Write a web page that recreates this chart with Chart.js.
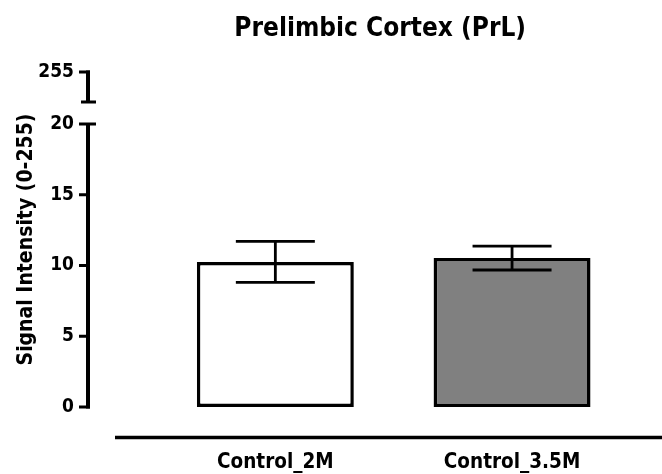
<!DOCTYPE html>
<html>
<head>
<meta charset="utf-8">
<script src="https://cdn.jsdelivr.net/npm/chart.js@4"></script>
<style>
  html, body { margin: 0; padding: 0; background: #fff; }
  #wrap { width: 662px; height: 474px; }
</style>
</head>
<body>
<div id="wrap"><canvas id="chart"></canvas></div>
<script>
// Data
const categories = ['Control_2M', 'Control_3.5M'];
const means = [10.25, 10.52];
const sem = [1.45, 0.84];
const barColors = ['#ffffff', '#808080'];

// Broken y axis: 0-20 on the lower segment, "255" at the top of a short upper segment
const yTickValues = [0, 5, 10, 15, 20, 23.67];
const yTickLabels = ['0', '5', '10', '15', '20', '255'];
const lowerSegmentTop = 20;
const upperSegment = [21.55, 23.67];

const FONT = '"DejaVu Sans Condensed", "DejaVu Sans", sans-serif';

/**
 * Draws the Prism-style axes (split y axis, detached x axis) and the error bars
 */
const prismAxes = {
    id: 'prismAxes',
    afterLayout(chart) {
        // title sits a little left of the plot-area centre in the original
        chart.titleBlock.left = chart.chartArea.left - 27;
    },
    afterDatasetsDraw(chart) {
        const ctx = chart.ctx;
        const xs = chart.scales.x;
        const ys = chart.scales.y;
        const area = chart.chartArea;
        const axisX = area.left - 69;

        ctx.save();
        ctx.strokeStyle = '#000';
        ctx.lineCap = 'butt';

        // y axis segments
        ctx.lineWidth = 4;
        ctx.beginPath();
        ctx.moveTo(axisX, ys.getPixelForValue(0) + 1.5);
        ctx.lineTo(axisX, ys.getPixelForValue(lowerSegmentTop));
        ctx.moveTo(axisX, ys.getPixelForValue(upperSegment[0]));
        ctx.lineTo(axisX, ys.getPixelForValue(upperSegment[1]) - 1.5);
        ctx.stroke();

        // tick marks
        ctx.lineWidth = 3;
        ctx.beginPath();
        yTickValues.forEach(v => {
            const py = ys.getPixelForValue(v);
            ctx.moveTo(axisX - 9, py);
            ctx.lineTo(axisX + 2, py);
        });
        // break caps
        [lowerSegmentTop, upperSegment[0]].forEach(v => {
            const py = ys.getPixelForValue(v);
            ctx.moveTo(axisX - 7, py);
            ctx.lineTo(axisX + 8, py);
        });
        ctx.stroke();

        // detached x axis line
        ctx.lineWidth = 3.5;
        ctx.beginPath();
        ctx.moveTo(area.left - 42, area.bottom + 30.5);
        ctx.lineTo(chart.width, area.bottom + 30.5);
        ctx.stroke();

        // error bars (mean +/- SEM)
        ctx.lineWidth = 2.8;
        means.forEach((m, i) => {
            const cx = xs.getPixelForValue(i);
            const top = ys.getPixelForValue(m + sem[i]);
            const bot = ys.getPixelForValue(m - sem[i]);
            ctx.beginPath();
            ctx.moveTo(cx, top);
            ctx.lineTo(cx, bot);
            ctx.moveTo(cx - 39.5, top);
            ctx.lineTo(cx + 39.5, top);
            ctx.moveTo(cx - 39.5, bot);
            ctx.lineTo(cx + 39.5, bot);
            ctx.stroke();
        });
        ctx.restore();
    }
};

new Chart(document.getElementById('chart'), {
    type: 'bar',
    data: {
        labels: categories,
        datasets: [{
            data: means,
            backgroundColor: barColors,
            borderColor: '#000',
            borderWidth: 3.5,
            borderSkipped: false,
            barPercentage: 0.663,
            categoryPercentage: 1
        }]
    },
    options: {
        responsive: true,
        maintainAspectRatio: false,
        animation: false,
        layout: {
            padding: { left: 0, right: 31.6, top: 0, bottom: 0 }
        },
        scales: {
            x: {
                afterFit: scale => {
                    scale.height = 67;
                },
                grid: { display: false, drawTicks: false },
                border: { display: false },
                ticks: {
                    padding: 43,
                    color: '#000',
                    font: { family: FONT, size: 20.5, weight: 'bold' }
                }
            },
            y: {
                min: 0,
                max: 23.67,
                afterBuildTicks: scale => {
                    scale.ticks = yTickValues.map(v => ({ value: v }));
                },
                afterFit: scale => {
                    // fixed gutter for labels; keep the big label padding out of the vertical layout
                    scale.width = 157;
                    scale.paddingTop = 0;
                    scale.paddingBottom = 0;
                },
                grid: { display: false, drawTicks: false },
                border: { display: false },
                ticks: {
                    autoSkip: false,
                    padding: 83,
                    color: '#000',
                    font: { family: FONT, size: 19, weight: 'bold' },
                    callback: (value, index) => yTickLabels[index]
                },
                title: {
                    display: true,
                    text: 'Signal Intensity (0-255)',
                    color: '#000',
                    font: { family: FONT, size: 21, weight: 'bold' },
                    padding: { top: 14, bottom: 0 }
                }
            }
        },
        plugins: {
            legend: { display: false },
            tooltip: { enabled: false },
            title: {
                display: true,
                text: 'Prelimbic Cortex (PrL)',
                fullSize: false,
                color: '#000',
                font: { family: FONT, size: 26, weight: 'bold' },
                padding: { top: 14, bottom: 26.8 }
            }
        }
    },
    plugins: [prismAxes]
});
</script>
</body>
</html>
